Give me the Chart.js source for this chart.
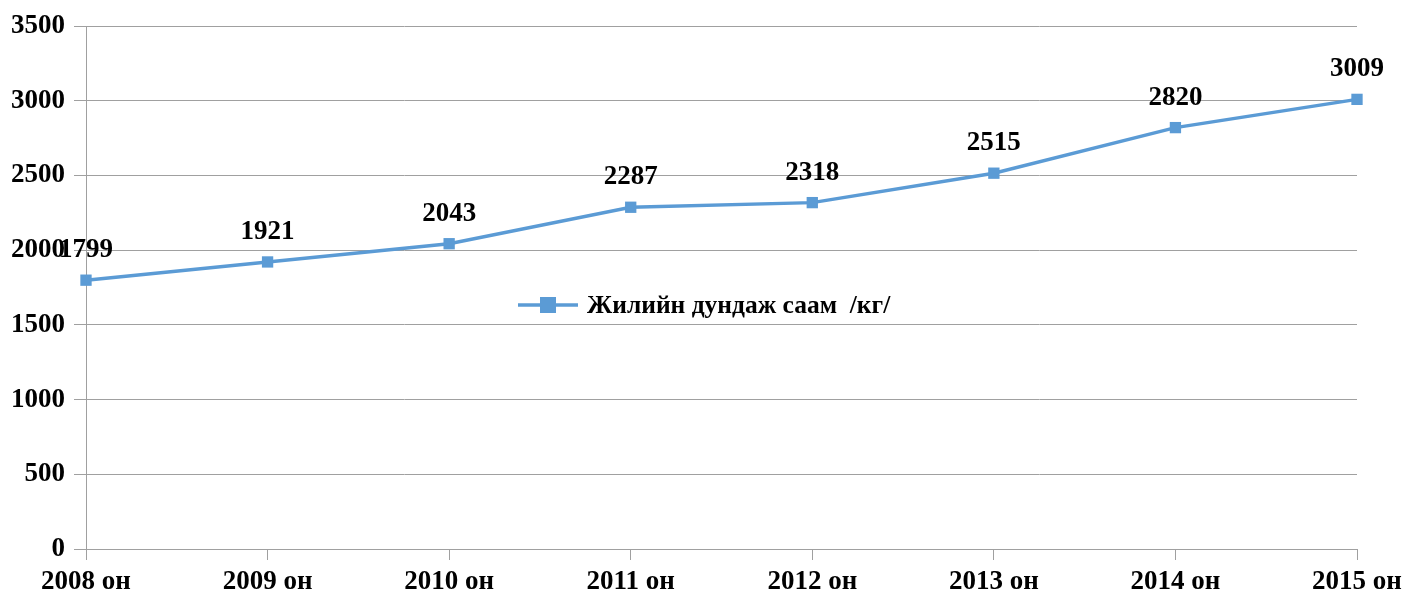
<!DOCTYPE html>
<html>
<head>
<meta charset="utf-8">
<script src="https://cdn.jsdelivr.net/npm/chart.js@4.4.0/dist/chart.umd.min.js"></script>
<style>
  html, body { margin: 0; padding: 0; background: #fff; }
  #wrap { width: 1405px; height: 597px; }
</style>
</head>
<body>
<div id="wrap"><canvas id="grafik"></canvas></div>
<script>
const onuud = ['2008 он', '2009 он', '2010 он', '2011 он', '2012 он', '2013 он', '2014 он', '2015 он'];
const saam = [1799, 1921, 2043, 2287, 2318, 2515, 2820, 3009];
const tsuvralNer = 'Жилийн дундаж саам  /кг/';
const yMax = 3500;
const yAlham = 500;

const ongo = '#5b9bd5';
const sharal = '#a0a0a0';
const font = { family: '"Liberation Serif", "Times New Roman", serif', size: 27, weight: 'bold' };

// утга болон тайлбарыг график дээр зурна
const shoshgo = {
    id: 'shoshgo',
    afterDatasetsDraw(chart) {
        const ctx = chart.ctx;
        const meta = chart.getDatasetMeta(0);
        ctx.save();
        ctx.font = `bold ${font.size}px ${font.family}`;
        ctx.fillStyle = '#000';
        ctx.textAlign = 'center';
        ctx.textBaseline = 'middle';
        meta.data.forEach((pt, i) => {
            ctx.fillText(String(saam[i]), pt.x, pt.y - 30);
        });

        // тайлбар
        const area = chart.chartArea;
        const lx = area.left + 432;
        const ly = area.top + 279;
        ctx.strokeStyle = ongo;
        ctx.lineWidth = 3.5;
        ctx.beginPath();
        ctx.moveTo(lx, ly);
        ctx.lineTo(lx + 60, ly);
        ctx.stroke();
        ctx.fillStyle = ongo;
        ctx.fillRect(lx + 22, ly - 8, 16, 16);
        ctx.fillStyle = '#000';
        ctx.textAlign = 'left';
        ctx.font = `bold 25.5px ${font.family}`;
        ctx.fillText(tsuvralNer, lx + 69, ly + 1);
        ctx.restore();
    }
};

new Chart(document.getElementById('grafik'), {
    type: 'line',
    data: {
        labels: onuud,
        datasets: [{
            label: tsuvralNer,
            data: saam,
            borderColor: ongo,
            backgroundColor: ongo,
            borderWidth: 3.5,
            pointStyle: 'rect',
            pointRadius: 8,
            pointBorderWidth: 0,
            tension: 0
        }]
    },
    options: {
        responsive: true,
        maintainAspectRatio: false,
        animation: false,
        layout: { padding: { top: 26, right: 48, left: 0, bottom: 0 } },
        plugins: {
            legend: { display: false },
            tooltip: { enabled: false }
        },
        scales: {
            x: {
                offset: false,
                grid: { drawOnChartArea: false, color: sharal, tickLength: 11, tickColor: sharal },
                border: { display: true, color: sharal, width: 1 },
                ticks: { color: '#000', font: font, padding: 6, maxRotation: 0, autoSkip: false },
                afterFit(s) { s.height = 48; s.paddingLeft = 0; s.paddingRight = 0; }
            },
            y: {
                min: 0,
                max: yMax,
                grid: { color: sharal, tickLength: 12, tickColor: sharal },
                border: { display: true, color: sharal, width: 1 },
                ticks: { stepSize: yAlham, color: '#000', font: font, padding: 9, callback: v => String(v) },
                afterFit(s) { s.width = 86; s.paddingTop = 0; s.paddingBottom = 0; }
            }
        }
    },
    plugins: [shoshgo]
});
</script>
</body>
</html>
